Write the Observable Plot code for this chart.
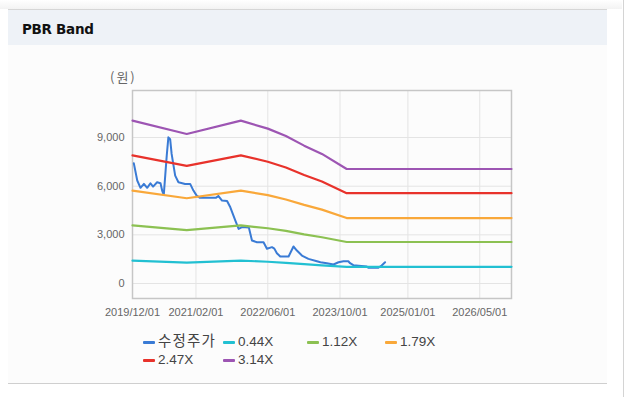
<!DOCTYPE html>
<html>
<head>
<meta charset="utf-8">
<script src="https://cdn.jsdelivr.net/npm/d3@7"></script>
<script src="https://cdn.jsdelivr.net/npm/@observablehq/plot@0.6"></script>
<style>
  html, body { margin: 0; padding: 0; background: #ffffff; }
  body { width: 626px; height: 397px; position: relative; overflow: hidden; font-family: "Liberation Sans", "Noto Sans CJK KR", sans-serif; }
  #rightline { position: absolute; left: 623px; top: 0; width: 1px; height: 397px; background: #d4d4d4; }
  #topshadow { position: absolute; left: 0; top: 0; width: 622px; height: 9px; background: linear-gradient(#ffffff, #f3f3f3); }
  #panel { position: absolute; left: 8px; top: 9px; width: 599px; height: 373px; background: #fcfcfc; border-top: 1px solid #d6d6d6; border-bottom: 1px solid #cfcfcf; }
  #header { position: absolute; left: 8px; top: 10px; width: 599px; height: 35px; background: #eef2f7; }
  #title { position: absolute; left: 22px; top: 21px; font-family: "DejaVu Sans", sans-serif; font-weight: bold; font-size: 13.5px; color: #111; letter-spacing: -0.3px; }
  #unit { position: absolute; left: 110px; top: 67px; font-size: 13px; color: #666; font-family: "Noto Sans CJK KR", sans-serif; letter-spacing: 2px; }
  #chart { position: absolute; left: 0; top: 60px; }
  .leg { position: absolute; font-size: 13.5px; color: #444; white-space: nowrap; line-height: 16px; }
  .leg .sw { position: absolute; top: 7px; height: 3px; width: 12px; border-radius: 1px; }
  .leg .tx { position: absolute; top: 0; }
</style>
</head>
<body>
<div id="topshadow"></div>
<div id="rightline"></div>
<div id="panel"></div>
<div id="header"></div>
<div id="title">PBR Band</div>
<div id="unit">(원)</div>
<div id="chart"></div>
<div id="legend"></div>
<script>
// ---- data ----
const priceDates = [
  "2019-12-10","2020-01-02","2020-01-24","2020-02-16","2020-03-09","2020-03-31","2020-04-18",
  "2020-05-15","2020-06-07","2020-06-18","2020-06-29","2020-07-19","2020-07-30","2020-08-11",
  "2020-08-21","2020-09-14","2020-10-06","2020-11-20","2020-12-24","2021-01-15","2021-02-06",
  "2021-03-01","2021-06-15","2021-07-02","2021-07-27","2021-08-30","2021-09-21","2021-10-25",
  "2021-11-16","2021-12-09","2021-12-31","2022-01-24","2022-02-14","2022-03-20","2022-05-03",
  "2022-05-26","2022-06-29","2022-07-15","2022-08-01","2022-08-24","2022-10-19","2022-11-21",
  "2022-12-14","2023-01-17","2023-03-02","2023-04-28","2023-05-22","2023-07-04","2023-08-18",
  "2023-09-21","2023-10-24","2023-11-26","2023-12-08","2023-12-30","2024-03-29","2024-04-09",
  "2024-06-16","2024-07-08","2024-07-31"
];
const priceValues = [
  7410, 6350, 5900, 6140, 5900, 6180, 5975,
  6240, 6180, 5730, 5465, 7885, 9010, 8900,
  7990, 6650, 6240, 6140, 6140, 5730, 5420,
  5280, 5280, 5400, 5110, 5090, 4700, 3880,
  3370, 3470, 3470, 3450, 2650, 2545, 2545,
  2140, 2240, 2150, 1870, 1663, 1663, 2280,
  2033, 1725, 1520, 1375, 1312, 1250, 1170,
  1312, 1370, 1370, 1250, 1127, 1050, 969,
  969, 1109, 1312
];
const bandDates = ["2019-12-01","2020-12-01","2021-12-01","2022-06-01","2022-10-01","2023-02-01","2023-06-01","2023-11-15","2026-12-01"];
const band044 = [1410, 1290, 1410, 1340, 1275, 1190, 1120, 1030, 1030];
const band112 = [3580, 3290, 3580, 3405, 3245, 3030, 2850, 2560, 2560];
const band179 = [5725, 5255, 5725, 5445, 5180, 4845, 4555, 4035, 4035];
const band247 = [7900, 7250, 7900, 7510, 7150, 6690, 6285, 5570, 5570];
const band314 = [10040, 9220, 10040, 9550, 9090, 8500, 7990, 7060, 7060];

const seriesNames = ["수정주가", "0.44X", "1.12X", "1.79X", "2.47X", "3.14X"];
const seriesColors = ["#3a7bd5", "#22c0d2", "#8cc152", "#f9a83a", "#e8322b", "#9d55b3"];
const xTickLabels = ["2019/12/01", "2021/02/01", "2022/06/01", "2023/10/01", "2025/01/01", "2026/05/01"];
const yTicks = [0, 3000, 6000, 9000];
const xDomain = ["2019-12-01", "2026-12-01"];
const yDomain = [-925, 11900];

// ---- build tables ----
const parse = d3.utcParse("%Y-%m-%d");
const parseTick = d3.utcParse("%Y/%m/%d");
const price = priceDates.map((d, i) => ({date: parse(d), value: priceValues[i], series: seriesNames[0]}));
const bandArrays = [band044, band112, band179, band247, band314];
const bands = bandArrays.flatMap((arr, k) => bandDates.map((d, i) => ({date: parse(d), value: arr[i], series: seriesNames[k + 1]})));
const xTicks = xTickLabels.map(parseTick);

const chart = Plot.plot({
  width: 560,
  height: 262,
  marginLeft: 132,
  marginRight: 49,
  marginTop: 30,
  marginBottom: 24,
  style: {fontFamily: "Liberation Sans, Noto Sans CJK KR, sans-serif", fontSize: "11px", color: "#666", background: "transparent", overflow: "visible"},
  x: {type: "utc", domain: xDomain.map(parse), ticks: xTicks, tickFormat: d3.utcFormat("%Y/%m/%d"), tickSize: 0, tickPadding: 10, label: null},
  y: {domain: yDomain, ticks: yTicks, tickFormat: d3.format(","), tickSize: 0, tickPadding: 8, label: null},
  color: {domain: seriesNames, range: seriesColors},
  marks: [
    Plot.gridX(xTicks, {stroke: "#e4e4e4", strokeOpacity: 1}),
    Plot.gridY(yTicks, {stroke: "#e4e4e4", strokeOpacity: 1}),
    Plot.frame({stroke: "#c6c6c6", strokeWidth: 1.5}),
    Plot.lineY(price, {x: "date", y: "value", stroke: "series", strokeWidth: 2, curve: "linear"}),
    Plot.lineY(bands, {x: "date", y: "value", z: "series", stroke: "series", strokeWidth: 2.2, curve: "linear"})
  ]
});
document.getElementById("chart").appendChild(chart);

// ---- legend ----
const legPos = [[143, 334], [223, 334], [307, 334], [385, 334], [143, 352], [223, 352]];
const legend = document.getElementById("legend");
seriesNames.forEach((name, i) => {
  const el = document.createElement("div");
  el.className = "leg";
  el.style.left = legPos[i][0] + "px";
  el.style.top = legPos[i][1] + "px";
  const sw = document.createElement("span");
  sw.className = "sw";
  sw.style.left = "0px";
  sw.style.background = seriesColors[i];
  const tx = document.createElement("span");
  tx.className = "tx";
  tx.style.left = "15px";
  tx.textContent = name;
  if (i === 0) { tx.style.fontFamily = "Noto Sans CJK KR, sans-serif"; tx.style.fontSize = "14.5px"; tx.style.letterSpacing = "1.2px"; tx.style.top = "-2px"; }
  el.appendChild(sw);
  el.appendChild(tx);
  legend.appendChild(el);
});
</script>
</body>
</html>
